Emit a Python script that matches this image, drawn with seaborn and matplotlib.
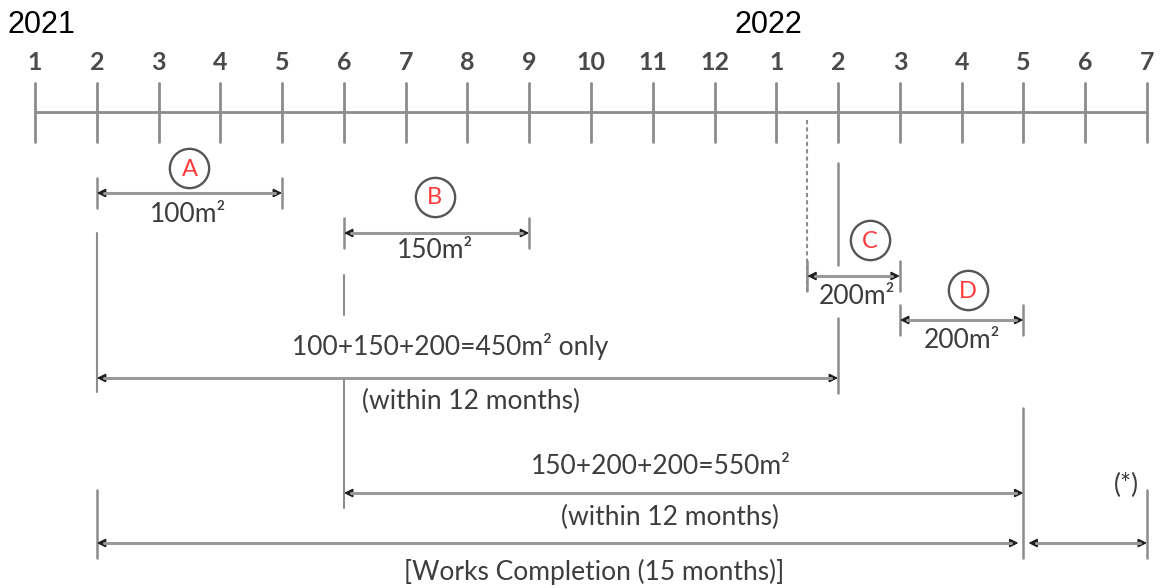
import numpy as np
import pandas as pd
import matplotlib
matplotlib.use("Agg")
import matplotlib.pyplot as plt
import seaborn as sns

# timeline: Jan 2021 .. Jul 2022, one step per month
month_labels = [str(m) for m in range(1, 13)] + [str(m) for m in range(1, 8)]
year_labels = ["2021", "2022"]
year_start = [0, 12]

# work phases (start / end in months from Jan 2021)
phases = ["A", "B", "C", "D"]
phase_start = [1, 5, 12.5, 14]
phase_end = [4, 8, 14, 16]
phase_area = [100, 150, 200, 200]

# rolling 12-month totals
total_start = [1, 5]
total_end = [13, 16]
total_parts = [[0, 1, 2], [1, 2, 3]]
total_suffix = [" only", ""]

completion_start = 1
completion_end = 16
extension_end = 18

sns.set_theme(style="white")
plt.rcParams["font.family"] = ["Lato", "DejaVu Sans"]

GREY = "#8c8c8c"
TEXT = "#3d3d3d"
RED = "#ff3b3b"
FS = 19

fig = plt.figure(figsize=(11.64, 5.88), dpi=100)
ax = fig.add_axes([0, 0, 1, 1])
ax.set_xlim(-0.567, 18.275)
ax.set_ylim(588, 0)
ax.axis("off")

# main axis
n = len(month_labels)
axis_df = pd.DataFrame({"t": np.arange(n), "y": 112})
sns.lineplot(data=axis_df, x="t", y="y", color=GREY, lw=2, ax=ax)
for t, lab in enumerate(month_labels):
    ax.plot([t, t], [83, 142], color=GREY, lw=2)
    ax.text(t, 63, lab, ha="center", va="center", fontsize=18,
            color="#4a4a4a", fontweight="bold")
ax.text(year_start[0] - 0.44, 25, year_labels[0], ha="left", va="center",
        fontsize=22, color="black", family="Liberation Sans")
ax.text(year_start[1] - 0.13, 25, year_labels[1], ha="center", va="center",
        fontsize=22, color="black", family="Liberation Sans")


def span(x0, x1, y, tick=15, tick0=None, tick1=None, heads="<|-|>"):
    ax.annotate("", xy=(x1, y), xytext=(x0, y),
                arrowprops=dict(arrowstyle=heads, color="#202020", lw=1.3,
                                mutation_scale=12, shrinkA=0, shrinkB=0))
    ax.plot([x0 + 0.12, x1 - 0.12], [y, y], color="#999999", lw=2.2, zorder=5)
    if tick0 is None:
        tick0 = (y - tick, y + tick)
    if tick1 is None:
        tick1 = (y - tick, y + tick)
    if tick0:
        ax.plot([x0, x0], tick0, color=GREY, lw=1.8)
    if tick1:
        ax.plot([x1, x1], tick1, color=GREY, lw=1.8)


# phase arrows, circles and areas
phase_y = [193, 233, 276, 320]
circle_x = [2.5, 6.47, 13.52, 15.1]
circle_y = [168, 197, 240, 290]
label_x = [2.48, 6.48, 13.3, 15.0]
label_y = [214, 250, 297, 341]

for i, p in enumerate(phases):
    span(phase_start[i], phase_end[i], phase_y[i])
    ax.text(label_x[i], label_y[i], f"{phase_area[i]}m²", ha="center",
            va="center", fontsize=FS, color=TEXT)
    ax.text(circle_x[i], circle_y[i] + 1, p, ha="center", va="center",
            fontsize=17, color=RED, zorder=6)

circ_df = pd.DataFrame({"x": circle_x, "y": circle_y})
sns.scatterplot(data=circ_df, x="x", y="y", s=800, marker="o",
                facecolor="white", edgecolor="#555555", linewidth=1.7,
                ax=ax, zorder=4)

# dotted start of C
ax.plot([phase_start[2]] * 2, [120, 292], color=GREY, lw=1.5, ls=(0, (2, 1.5)))

# guide lines
ax.plot([1, 1], [233, 392], color=GREY, lw=1.5)
ax.plot([5, 5], [275, 315], color=GREY, lw=1.5)
ax.plot([5, 5], [378, 508], color=GREY, lw=1.5)
ax.plot([13, 13], [163, 265], color=GREY, lw=1.8)
ax.plot([13, 13], [318, 393], color=GREY, lw=1.8)
ax.plot([16, 16], [408, 558], color=GREY, lw=1.8)

# 12-month totals
total_y = [378, 493]
total_text_x = [6.72, 10.13]
total_text_y = [346, 466]
sub_text_x = [7.06, 10.28]
sub_text_y = [401, 517]
for i in range(len(total_start)):
    span(total_start[i], total_end[i], total_y[i], tick0=False, tick1=False)
    areas = [phase_area[k] for k in total_parts[i]]
    txt = "+".join(str(a) for a in areas) + f"={sum(areas)}m²" + total_suffix[i]
    ax.text(total_text_x[i], total_text_y[i], txt, ha="center", va="center",
            fontsize=FS, color=TEXT)
    ax.text(sub_text_x[i], sub_text_y[i], "(within 12 months)", ha="center",
            va="center", fontsize=FS, color=TEXT)

# works completion and extension
span(completion_start, completion_end - 0.08, 543, tick0=(490, 558), tick1=False)
span(completion_end + 0.08, extension_end, 543, tick0=False, tick1=(490, 558))
months = completion_end - completion_start
ax.text(9.05, 572, f"[Works Completion ({months} months)]", ha="center",
        va="center", fontsize=FS, color=TEXT)
ax.text(17.66, 485, "(*)", ha="center", va="center", fontsize=FS, color=TEXT)

fig.savefig("out.png", dpi=100)
